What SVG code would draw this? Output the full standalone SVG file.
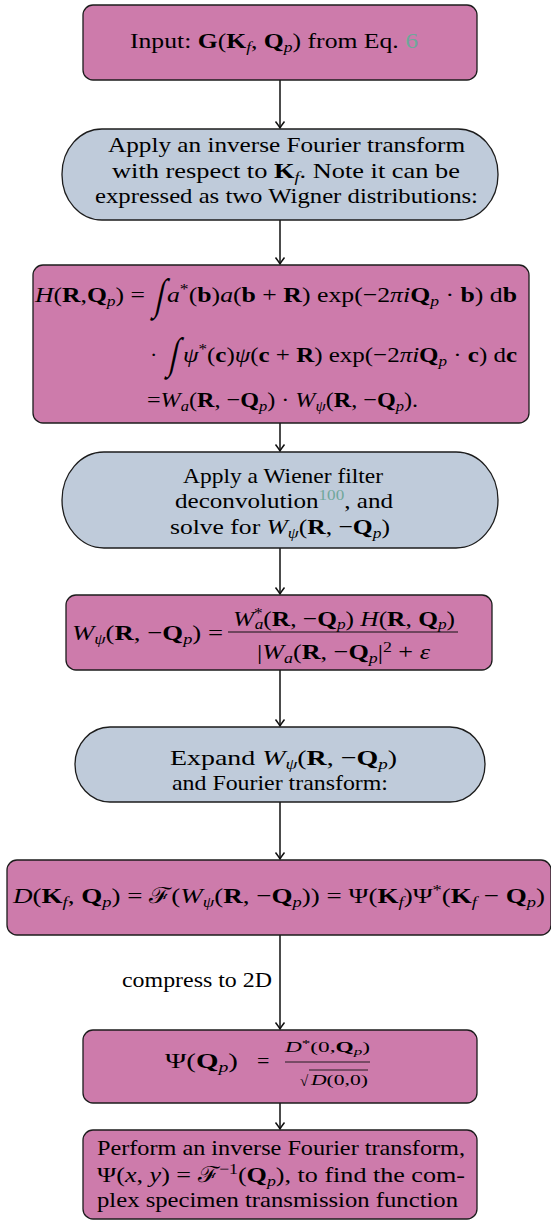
<svg xmlns="http://www.w3.org/2000/svg" width="551" height="1222" viewBox="0 0 551 1222">
  <style>
    text { font-family: "Liberation Serif", "Times New Roman", serif; font-size: 22px; fill: #000; }
    .proc { fill: #CD7BAB; stroke: #1c1c1c; stroke-width: 1.3; }
    .term { fill: #BFCBDA; stroke: #1c1c1c; stroke-width: 1.3; }
    .b { font-weight: bold; }
    .i { font-style: italic; }
    .s { font-size: 15px; }
    .cite { fill: #6FA79A; }
    .edge { stroke: #111; stroke-width: 1.5; fill: none; }
    .big { font-size: 30px; }
  </style>
  <defs>
    <marker id="tip" markerUnits="userSpaceOnUse" markerWidth="14" markerHeight="14" viewBox="-8 -7 10 14" refX="0" refY="0" orient="auto">
      <path d="M -6.5,-4.5 Q -2,-1 0,0 Q -2,1 -6.5,4.5" fill="none" stroke="#111" stroke-width="1.5"/>
    </marker>
  </defs>

  <!-- connectors -->
  <g id="connectors">
    <line class="edge" x1="280" y1="80" x2="280" y2="128" marker-end="url(#tip)"/>
    <line class="edge" x1="280" y1="220" x2="280" y2="264" marker-end="url(#tip)"/>
    <line class="edge" x1="280" y1="423" x2="280" y2="451" marker-end="url(#tip)"/>
    <line class="edge" x1="280" y1="548" x2="280" y2="594" marker-end="url(#tip)"/>
    <line class="edge" x1="280" y1="670" x2="280" y2="726" marker-end="url(#tip)"/>
    <line class="edge" x1="280" y1="802" x2="280" y2="859" marker-end="url(#tip)"/>
    <line class="edge" x1="280" y1="935" x2="280" y2="1029" marker-end="url(#tip)"/>
    <line class="edge" x1="280" y1="1103" x2="280" y2="1129" marker-end="url(#tip)"/>
    <text x="122" y="987" textLength="150" lengthAdjust="spacingAndGlyphs">compress to 2D</text>
  </g>

  <!-- input -->
  <g id="input">
    <rect class="proc" x="83" y="5" width="394" height="75" rx="10"/>
    <text x="130" y="48" textLength="288" lengthAdjust="spacingAndGlyphs">Input:  <tspan class="b">G</tspan>(<tspan class="b">K</tspan><tspan class="i s" dy="4">f</tspan><tspan dy="-4">, </tspan><tspan class="b">Q</tspan><tspan class="i s" dy="4">p</tspan><tspan dy="-4">)</tspan> from Eq. <tspan class="cite">6</tspan></text>
  </g>

  <!-- inverse Fourier transform step -->
  <g id="ift">
    <rect class="term" x="62" y="129" width="436" height="91" rx="40" ry="45"/>
    <text x="108" y="152" textLength="357" lengthAdjust="spacingAndGlyphs">Apply an inverse Fourier transform</text>
    <text x="112" y="178" textLength="348" lengthAdjust="spacingAndGlyphs">with respect to <tspan class="b">K</tspan><tspan class="i s" dy="4">f</tspan><tspan dy="-4">.  Note it can be</tspan></text>
    <text x="95" y="203" textLength="383" lengthAdjust="spacingAndGlyphs">expressed as two Wigner distributions:</text>
  </g>

  <!-- H as product of two Wigner distributions -->
  <g id="hfunc">
    <rect class="proc" x="33" y="265" width="496" height="158" rx="10"/>
    <text x="35" y="302" textLength="110" lengthAdjust="spacingAndGlyphs"><tspan class="i">H</tspan>(<tspan class="b">R</tspan>,<tspan class="b">Q</tspan><tspan class="i s" dy="4">p</tspan><tspan dy="-4">) =</tspan></text>
    <text class="big" transform="translate(154,309) skewX(-12) scale(1,1.45)">∫</text>
    <text x="167" y="302" textLength="350" lengthAdjust="spacingAndGlyphs"><tspan class="i">a</tspan><tspan class="s" dy="-8">*</tspan><tspan dy="8">(</tspan><tspan class="b">b</tspan>)<tspan class="i">a</tspan>(<tspan class="b">b</tspan> + <tspan class="b">R</tspan>) exp(−2<tspan class="i">πi</tspan><tspan class="b">Q</tspan><tspan class="i s" dy="4">p</tspan><tspan dy="-4"> · </tspan><tspan class="b">b</tspan>) d<tspan class="b">b</tspan></text>
    <text x="150" y="362">·</text>
    <text class="big" transform="translate(168,368) skewX(-12) scale(1,1.45)">∫</text>
    <text x="183" y="362" textLength="334" lengthAdjust="spacingAndGlyphs"><tspan class="i">ψ</tspan><tspan class="s" dy="-8">*</tspan><tspan dy="8">(</tspan><tspan class="b">c</tspan>)<tspan class="i">ψ</tspan>(<tspan class="b">c</tspan> + <tspan class="b">R</tspan>) exp(−2<tspan class="i">πi</tspan><tspan class="b">Q</tspan><tspan class="i s" dy="4">p</tspan><tspan dy="-4"> · </tspan><tspan class="b">c</tspan>) d<tspan class="b">c</tspan></text>
    <text x="147" y="407" textLength="271" lengthAdjust="spacingAndGlyphs">=<tspan class="i">W</tspan><tspan class="i s" dy="4">a</tspan><tspan dy="-4">(</tspan><tspan class="b">R</tspan>, −<tspan class="b">Q</tspan><tspan class="i s" dy="4">p</tspan><tspan dy="-4">) · </tspan><tspan class="i">W</tspan><tspan class="i s" dy="4">ψ</tspan><tspan dy="-4">(</tspan><tspan class="b">R</tspan>, −<tspan class="b">Q</tspan><tspan class="i s" dy="4">p</tspan><tspan dy="-4">).</tspan></text>
  </g>

  <!-- Wiener deconvolution step -->
  <g id="wiener">
    <rect class="term" x="62" y="452" width="436" height="96" rx="42" ry="48"/>
    <text x="183" y="483" textLength="200" lengthAdjust="spacingAndGlyphs">Apply a Wiener filter</text>
    <text x="175" y="508" textLength="218" lengthAdjust="spacingAndGlyphs">deconvolution<tspan class="s cite" dy="-8">100</tspan><tspan dy="8">, and</tspan></text>
    <text x="170" y="534" textLength="220" lengthAdjust="spacingAndGlyphs">solve for <tspan class="i">W</tspan><tspan class="i s" dy="4">ψ</tspan><tspan dy="-4">(</tspan><tspan class="b">R</tspan>, −<tspan class="b">Q</tspan><tspan class="i s" dy="4">p</tspan><tspan dy="-4">)</tspan></text>
  </g>

  <!-- Wiener estimate of W_psi -->
  <g id="wpsi">
    <rect class="proc" x="66" y="595" width="426" height="75" rx="10"/>
    <text x="72" y="640" textLength="151" lengthAdjust="spacingAndGlyphs"><tspan class="i">W</tspan><tspan class="i s" dy="4">ψ</tspan><tspan dy="-4">(</tspan><tspan class="b">R</tspan>, −<tspan class="b">Q</tspan><tspan class="i s" dy="4">p</tspan><tspan dy="-4">) =</tspan></text>
    <text x="233" y="626" textLength="222" lengthAdjust="spacingAndGlyphs"><tspan class="i">W</tspan><tspan class="s" dy="-8">*</tspan><tspan class="i s" dx="-7" dy="11">a</tspan><tspan dy="-3">(</tspan><tspan class="b">R</tspan>, −<tspan class="b">Q</tspan><tspan class="i s" dy="3">p</tspan><tspan dy="-3">)  </tspan><tspan class="i">H</tspan>(<tspan class="b">R</tspan>, <tspan class="b">Q</tspan><tspan class="i s" dy="3">p</tspan><tspan dy="-3">)</tspan></text>
    <line x1="228" y1="632" x2="458" y2="632" stroke="#111" stroke-width="1"/>
    <text x="257" y="659" textLength="173" lengthAdjust="spacingAndGlyphs">|<tspan class="i">W</tspan><tspan class="i s" dy="4">a</tspan><tspan dy="-4">(</tspan><tspan class="b">R</tspan>, −<tspan class="b">Q</tspan><tspan class="i s" dy="4">p</tspan><tspan dy="-4">|</tspan><tspan class="s" dy="-7">2</tspan><tspan dy="7"> + </tspan><tspan class="i">ε</tspan></text>
  </g>

  <!-- expand and Fourier transform step -->
  <g id="expand">
    <rect class="term" x="75" y="727" width="410" height="75" rx="35" ry="37.5"/>
    <text x="170" y="765" textLength="227" lengthAdjust="spacingAndGlyphs">Expand <tspan class="i">W</tspan><tspan class="i s" dy="4">ψ</tspan><tspan dy="-4">(</tspan><tspan class="b">R</tspan>, −<tspan class="b">Q</tspan><tspan class="i s" dy="4">p</tspan><tspan dy="-4">)</tspan></text>
    <text x="172" y="790" textLength="216" lengthAdjust="spacingAndGlyphs">and Fourier transform:</text>
  </g>

  <!-- 4D dataset D -->
  <g id="dfunc">
    <rect class="proc" x="7" y="860" width="544" height="75" rx="10"/>
    <text x="13" y="903" textLength="532" lengthAdjust="spacingAndGlyphs"><tspan class="i">D</tspan>(<tspan class="b">K</tspan><tspan class="i s" dy="4">f</tspan><tspan dy="-4">, </tspan><tspan class="b">Q</tspan><tspan class="i s" dy="4">p</tspan><tspan dy="-4">) = ℱ(</tspan><tspan class="i">W</tspan><tspan class="i s" dy="4">ψ</tspan><tspan dy="-4">(</tspan><tspan class="b">R</tspan>, −<tspan class="b">Q</tspan><tspan class="i s" dy="4">p</tspan><tspan dy="-4">)) = Ψ(</tspan><tspan class="b">K</tspan><tspan class="i s" dy="4">f</tspan><tspan dy="-4">)Ψ</tspan><tspan class="s" dy="-8">*</tspan><tspan dy="8">(</tspan><tspan class="b">K</tspan><tspan class="i s" dy="4">f</tspan><tspan dy="-4"> − </tspan><tspan class="b">Q</tspan><tspan class="i s" dy="4">p</tspan><tspan dy="-4">)</tspan></text>
  </g>

  <!-- 2D wave estimate -->
  <g id="psi">
    <rect class="proc" x="83" y="1030" width="394" height="73" rx="10"/>
    <text x="165" y="1068" textLength="73" lengthAdjust="spacingAndGlyphs">Ψ(<tspan class="b">Q</tspan><tspan class="i s" dy="4">p</tspan><tspan dy="-4">)</tspan></text>
    <text x="257" y="1068">=</text>
    <text x="285" y="1052" class="s" textLength="85" lengthAdjust="spacingAndGlyphs"><tspan class="i">D</tspan><tspan dy="-5" style="font-size:11px">*</tspan><tspan dy="5">(0,</tspan><tspan class="b">Q</tspan><tspan class="i" dy="3" style="font-size:11px">p</tspan><tspan dy="-3">)</tspan></text>
    <line x1="285" y1="1062" x2="370" y2="1062" stroke="#111" stroke-width="0.9"/>
    <text x="300" y="1086" class="s">√</text>
    <line x1="309" y1="1070" x2="368" y2="1070" stroke="#111" stroke-width="0.9"/>
    <text x="311" y="1085" class="s" textLength="57" lengthAdjust="spacingAndGlyphs"><tspan class="i">D</tspan>(0,0)</text>
  </g>

  <!-- recover transmission function -->
  <g id="recover">
    <rect class="proc" x="83" y="1130" width="394" height="89" rx="10"/>
    <text x="97" y="1155" textLength="368" lengthAdjust="spacingAndGlyphs">Perform an inverse Fourier transform,</text>
    <text x="97" y="1182" textLength="368" lengthAdjust="spacingAndGlyphs">Ψ(<tspan class="i">x</tspan>, <tspan class="i">y</tspan>) = ℱ<tspan class="s" dy="-8">−1</tspan><tspan dy="8">(</tspan><tspan class="b">Q</tspan><tspan class="i s" dy="4">p</tspan><tspan dy="-4">), to find the com-</tspan></text>
    <text x="97" y="1207" textLength="361" lengthAdjust="spacingAndGlyphs">plex specimen transmission function</text>
  </g>
</svg>
